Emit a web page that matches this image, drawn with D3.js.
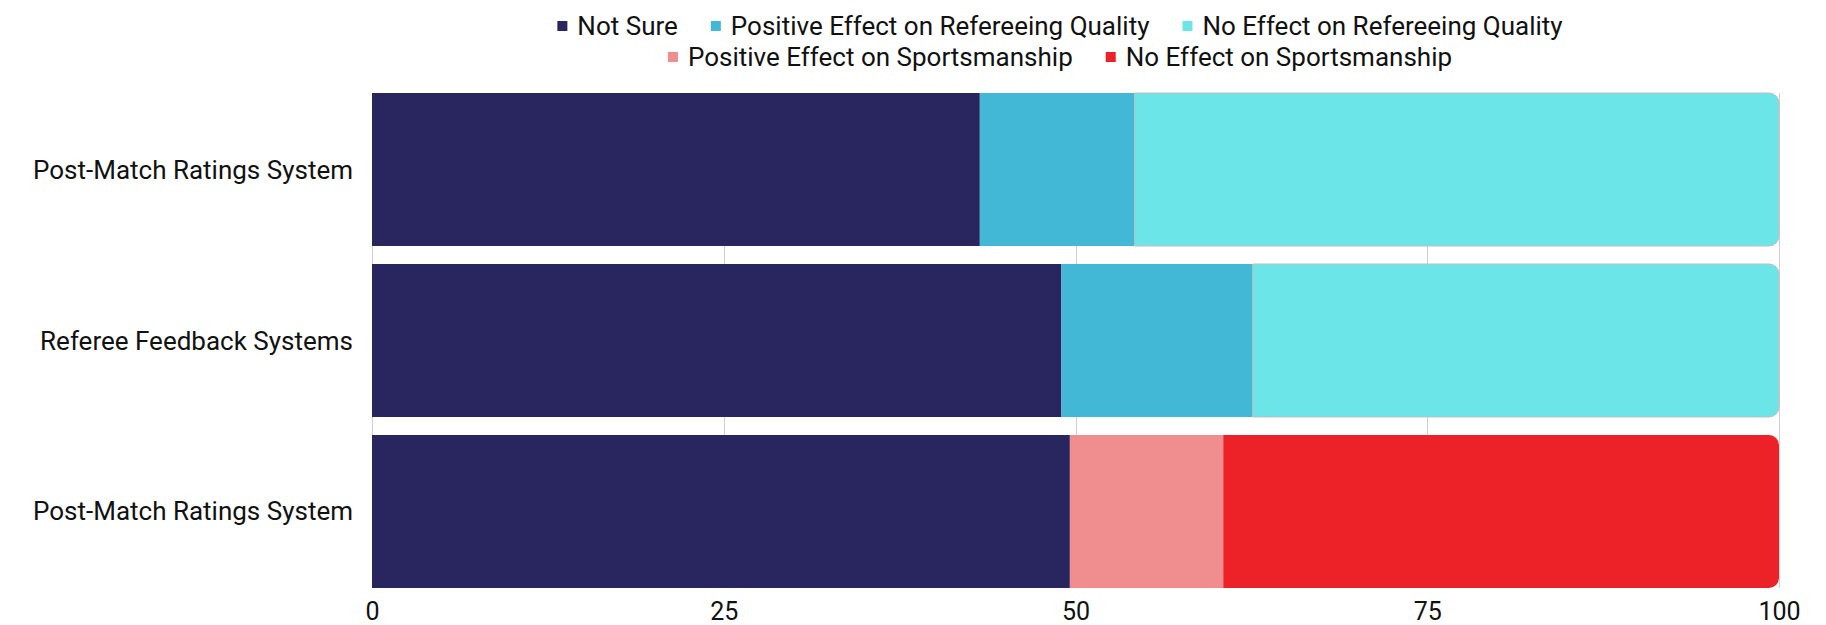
<!DOCTYPE html>
<html><head><meta charset="utf-8">
<script src="https://cdn.jsdelivr.net/npm/d3@7"></script>
<style>
html,body{margin:0;padding:0;background:#fff;}
svg text{font-family:Roboto,"DejaVu Sans",sans-serif;fill:#111;}
</style></head>
<body>
<svg id="chart" width="1826" height="625"></svg>
<script>
const categories = ["Post-Match Ratings System", "Referee Feedback Systems", "Post-Match Ratings System "];
const seriesNames = ["Not Sure", "Positive Effect on Refereeing Quality", "No Effect on Refereeing Quality", "Positive Effect on Sportsmanship", "No Effect on Sportsmanship"];
const notSure = [43.2, 49.0, 49.6];
const positiveRefereeing = [11.0, 13.6, 0];
const noEffectRefereeing = [45.8, 37.4, 0];
const positiveSportsmanship = [0, 0, 10.9];
const noEffectSportsmanship = [0, 0, 39.5];
const xTicks = [0, 25, 50, 75, 100];
const colors = ["#29255e", "#42b7d6", "#6ce5e8", "#f08e8f", "#ec2228"];

const seriesValues = [notSure, positiveRefereeing, noEffectRefereeing, positiveSportsmanship, noEffectSportsmanship];

const svg = d3.select("#chart");
const x = d3.scaleLinear().domain([0, 100]).range([372, 1779]);
const y = d3.scaleBand().domain(categories).range([93, 588]).paddingInner(0.105).paddingOuter(0);

// gridlines
svg.append("g").selectAll("line").data(xTicks).join("line")
  .attr("x1", d => Math.round(x(d)) + 0.5).attr("x2", d => Math.round(x(d)) + 0.5)
  .attr("y1", 93).attr("y2", 588)
  .attr("stroke", "#d0d0d0").attr("stroke-width", 1);

// stacked data
const rows = categories.map((c, i) => {
  let acc = 0;
  const segs = [];
  seriesValues.forEach((arr, s) => {
    const v = arr[i];
    if (v > 0) { segs.push({cat: c, s, x0: acc, x1: acc + v}); acc += v; }
  });
  segs[segs.length - 1].last = true;
  return segs;
}).flat();

const r = 10;
function segPath(d) {
  const x0 = x(d.x0), x1 = x(d.x1), y0 = y(d.cat), y1 = y(d.cat) + y.bandwidth();
  if (!d.last) return `M${x0},${y0}H${x1}V${y1}H${x0}Z`;
  return `M${x0},${y0}H${x1 - r}A${r},${r} 0 0 1 ${x1},${y0 + r}V${y1 - r}A${r},${r} 0 0 1 ${x1 - r},${y1}H${x0}Z`;
}
svg.append("g").selectAll("path").data(rows).join("path")
  .attr("d", segPath)
  .attr("fill", d => colors[d.s])
  .attr("stroke", d => d.s === 2 ? "#bfbfbf" : "none")
  .attr("stroke-width", 1);

// category labels
svg.append("g").selectAll("text").data(categories).join("text")
  .attr("x", 353).attr("y", d => y(d) + y.bandwidth() / 2)
  .attr("text-anchor", "end").attr("dominant-baseline", "central")
  .attr("font-size", 26).text(d => d.trim());

// x axis labels
const xAxis = d3.axisBottom(x).tickValues(xTicks).tickSize(0).tickPadding(0);
const gx = svg.append("g").attr("transform", "translate(0,602)").call(xAxis);
gx.select(".domain").remove();
gx.selectAll("text").attr("font-size", 25).attr("fill", "#111").attr("dy", "0.71em")
  .style("font-family", "Roboto, sans-serif");

// legend
const legendRows = [[0, 1, 2], [3, 4]];
const legendCenter = 1060;
const legendY = [26, 57];
const gap = 33;
legendRows.forEach((items, ri) => {
  const g = svg.append("g");
  let cx = 0;
  items.forEach((s, k) => {
    const it = g.append("g").attr("transform", `translate(${cx},0)`);
    it.append("rect").attr("x", 0).attr("y", legendY[ri] - 5).attr("width", 10).attr("height", 10).attr("fill", colors[s]);
    const t = it.append("text").attr("x", 20).attr("y", legendY[ri]).attr("dominant-baseline", "central")
      .attr("font-size", 26).text(seriesNames[s]);
    const w = t.node().getComputedTextLength();
    cx += 20 + w + gap;
  });
  const total = cx - gap;
  g.attr("transform", `translate(${legendCenter - total / 2},0)`);
});
</script>
</body></html>
